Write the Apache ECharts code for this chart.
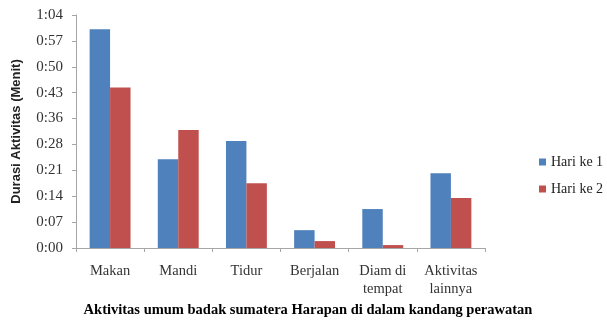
<!DOCTYPE html>
<html><head><meta charset="utf-8">
<script src="https://cdn.jsdelivr.net/npm/echarts@6/dist/echarts.min.js"></script>
<style>html,body{margin:0;padding:0;background:#fff}#c{width:607px;height:329px}</style>
</head><body><div id="c"></div>
<script>
const categories = ['Makan', 'Mandi', 'Tidur', 'Berjalan', 'Diam di\ntempat', 'Aktivitas\nlainnya'];
const hari1 = [60.1, 24.4, 29.4, 4.9, 10.7, 20.5];
const hari2 = [44.1, 32.4, 17.8, 1.9, 0.8, 13.7];
const seriesNames = ['Hari ke 1', 'Hari ke 2'];
const yTickLabels = ['0:00', '0:07', '0:14', '0:21', '0:28', '0:36', '0:43', '0:50', '0:57', '1:04'];
const yMax = 64;

const chart = echarts.init(document.getElementById('c'), null, {renderer: 'canvas'});
const serif = 'Liberation Serif';
chart.setOption({
  animation: false,
  textStyle: {fontFamily: serif},
  grid: {left: 76, right: 122, top: 15, bottom: 81, containLabel: false},
  title: {
    text: 'Aktivitas umum badak sumatera Harapan di dalam kandang perawatan',
    left: 303, textAlign: 'center', top: 298,
    textStyle: {fontFamily: serif, fontWeight: 'bold', fontSize: 14.5, color: '#000'}
  },
  legend: {
    orient: 'vertical', left: 534, top: 150, itemWidth: 7, itemHeight: 7, itemGap: 13,
    icon: 'rect',
    formatter: '{s|{name}}',
    textStyle: {fontFamily: serif, fontSize: 14, color: '#222',
      rich: {s: {fontFamily: serif, fontSize: 14, color: '#222'}}},
    data: seriesNames
  },
  xAxis: {
    type: 'category', data: categories,
    axisLine: {lineStyle: {color: '#a6a6a6'}},
    axisTick: {show: true, alignWithLabel: false, length: 4, lineStyle: {color: '#a6a6a6'}},
    axisLabel: {interval: 0, fontFamily: serif, fontSize: 14.5, color: '#333', margin: 14, lineHeight: 18}
  },
  yAxis: {
    type: 'value', min: 0, max: yMax, interval: yMax / 9,
    name: 'Durasi Aktivitas (Menit)', nameLocation: 'middle', nameGap: 53, nameRotate: 90,
    nameTextStyle: {fontFamily: 'Liberation Sans', fontWeight: 'bold', fontSize: 13, color: '#222'},
    axisLine: {show: true, lineStyle: {color: '#a6a6a6'}},
    axisTick: {show: true, length: 4, lineStyle: {color: '#a6a6a6'}},
    splitLine: {show: false},
    axisLabel: {
      fontFamily: serif, fontSize: 15, color: '#333', margin: 13,
      formatter: function (v) { const i = Math.round(v / (yMax / 9)); return yTickLabels[i] !== undefined ? yTickLabels[i] : ''; }
    }
  },
  series: [
    {name: seriesNames[0], type: 'bar', data: hari1, barGap: '0%', barCategoryGap: '40%', itemStyle: {color: '#4F81BD'}},
    {name: seriesNames[1], type: 'bar', data: hari2, barGap: '0%', barCategoryGap: '40%', itemStyle: {color: '#C0504D'}}
  ]
});
</script></body></html>
